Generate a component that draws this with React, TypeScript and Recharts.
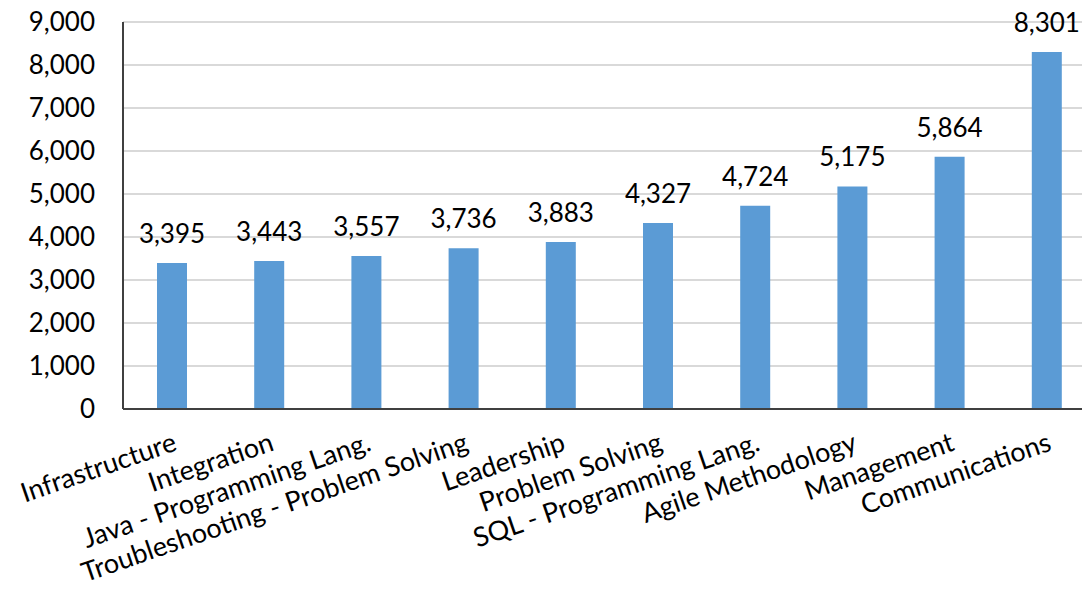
import { BarChart, Bar, XAxis, YAxis, CartesianGrid, LabelList } from 'recharts';

const skills = [
  'Infrastructure',
  'Integration',
  'Java - Programming Lang.',
  'Troubleshooting - Problem Solving',
  'Leadership',
  'Problem Solving',
  'SQL - Programming Lang.',
  'Agile Methodology',
  'Management',
  'Communications',
];
const counts = [3395, 3443, 3557, 3736, 3883, 4327, 4724, 5175, 5864, 8301];
const yTicks = [0, 1000, 2000, 3000, 4000, 5000, 6000, 7000, 8000, 9000];

const data = skills.map((name, i) => ({ name, value: counts[i] }));

const FONT = 'Lato, sans-serif';
const fmt = (v: number) => v.toLocaleString('en-US');

function SkillTick({ x, y, payload }: any) {
  return (
    <g transform={`translate(${x},${y + 20}) rotate(-19)`}>
      <text x={0} y={0} dy="0.74em" textAnchor="end" fill="#000" fontSize={27} fontFamily={FONT}>
        {payload.value}
      </text>
    </g>
  );
}

export default function App() {
  return (
    <div style={{ position: 'absolute', left: 0, top: 0, width: 1082, height: 589, overflow: 'hidden', background: '#fff' }}>
      <BarChart width={1100} height={589} data={data} margin={{ top: 22, right: 5, left: 0, bottom: 0 }}>
        <CartesianGrid vertical={false} stroke="#d9d9d9" strokeWidth={2} />
        <XAxis
          dataKey="name"
          interval={0}
          height={180}
          tickLine={false}
          tickSize={0}
          axisLine={{ stroke: '#404040', strokeWidth: 2 }}
          tick={<SkillTick />}
        />
        <YAxis
          width={123}
          domain={[0, 9000]}
          ticks={yTicks}
          tickFormatter={fmt}
          tickLine={false}
          tickSize={0}
          tickMargin={28}
          axisLine={{ stroke: '#404040', strokeWidth: 2 }}
          tick={{ fill: '#000', fontSize: 26, fontFamily: FONT }}
        />
        <Bar dataKey="value" fill="#5b9bd5" barSize={30} isAnimationActive={false}>
          <LabelList
            dataKey="value"
            position="top"
            offset={20}
            formatter={(v: any) => fmt(Number(v))}
            fill="#000"
            fontSize={26}
            fontFamily={FONT}
          />
        </Bar>
      </BarChart>
    </div>
  );
}
